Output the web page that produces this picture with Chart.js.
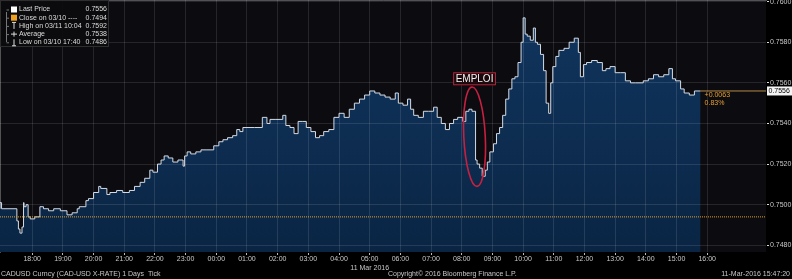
<!DOCTYPE html>
<html>
<head>
<meta charset="utf-8">
<script src="https://cdn.jsdelivr.net/npm/chart.js@4.4.1/dist/chart.umd.min.js"></script>
<style>
  html, body { margin: 0; padding: 0; background: #000; }
  #wrap { width: 792px; height: 279px; }
</style>
</head>
<body>
<div id="wrap"><canvas id="fxChart" width="792" height="279"></canvas></div>
<script>
// CAD-USD intraday ticks, 10 Mar 17:00 -> 11 Mar 15:47
const times = [
  '16:57', '17:00', '17:03', '17:30', '17:33', '17:36', '17:40', '17:43', '17:44', '17:48',
  '17:52', '17:56', '18:05', '18:15', '18:22', '18:32', '18:42', '18:55', '19:08', '19:18',
  '19:28', '19:32', '19:45', '19:50', '20:00', '20:10', '20:14', '20:26', '20:32', '20:45',
  '20:57', '21:10', '21:20', '21:31', '21:40', '21:50', '21:56', '22:05', '22:12', '22:18',
  '22:26', '22:35', '22:45', '22:55', '22:58', '23:03', '23:10', '23:20', '23:30', '23:40',
  '23:55', '00:05', '00:13', '00:22', '00:32', '00:40', '00:46', '00:52', '01:00', '01:15',
  '01:30', '01:39', '01:45', '01:55', '02:10', '02:16', '02:24', '02:32', '02:40', '02:48',
  '02:56', '03:05', '03:14', '03:22', '03:30', '03:40', '03:50', '04:00', '04:10', '04:20',
  '04:30', '04:40', '04:50', '05:00', '05:10', '05:20', '05:30', '05:40', '05:50', '05:56',
  '06:05', '06:14', '06:20', '06:26', '06:35', '06:45', '06:55', '07:05', '07:12', '07:20',
  '07:28', '07:36', '07:44', '07:52', '08:02', '08:08', '08:14', '08:20', '08:27', '08:30',
  '08:35', '08:40', '08:46', '08:50', '08:55', '09:02', '09:08', '09:14', '09:20', '09:26',
  '09:32', '09:38', '09:44', '09:50', '09:56', '10:00', '10:04', '10:08', '10:14', '10:20',
  '10:24', '10:28', '10:34', '10:40', '10:45', '10:50', '10:54', '10:58', '11:04', '11:10',
  '11:20', '11:30', '11:40', '11:48', '11:52', '11:58', '12:04', '12:14', '12:25', '12:35',
  '12:42', '12:50', '13:00', '13:10', '13:20', '13:30', '13:40', '13:55', '14:05', '14:15',
  '14:25', '14:35', '14:45', '14:52', '14:58', '15:08', '15:15', '15:25', '15:35', '15:42',
  '15:47'
];
const prices = [
  0.7498, 0.7501, 0.7498, 0.7498, 0.7492, 0.7488, 0.7486, 0.7489, 0.7501, 0.7499,
  0.7500, 0.7494, 0.7493, 0.7494, 0.7499, 0.7498, 0.7497, 0.7498, 0.7497, 0.7495,
  0.7496, 0.7498, 0.7499, 0.7502, 0.7503, 0.7506, 0.7509, 0.7508, 0.7505, 0.7506,
  0.7507, 0.7506, 0.7507, 0.7509, 0.7511, 0.7513, 0.7517, 0.7516, 0.7520, 0.7522,
  0.7524, 0.7523, 0.7521, 0.7522, 0.7519, 0.7524, 0.7526, 0.7525, 0.7526, 0.7527,
  0.7527, 0.7529, 0.7531, 0.7532, 0.7533, 0.7534, 0.7537, 0.7536, 0.7538, 0.7538,
  0.7538, 0.7543, 0.7540, 0.7542, 0.7542, 0.7544, 0.7539, 0.7538, 0.7535, 0.7541,
  0.7541, 0.7538, 0.7536, 0.7533, 0.7534, 0.7536, 0.7537, 0.7543, 0.7545, 0.7543,
  0.7547, 0.7550, 0.7552, 0.7554, 0.7556, 0.7555, 0.7554, 0.7553, 0.7552, 0.7555,
  0.7550, 0.7549, 0.7552, 0.7547, 0.7544, 0.7543, 0.7546, 0.7546, 0.7548, 0.7543,
  0.7540, 0.7537, 0.7540, 0.7542, 0.7543, 0.7541, 0.7546, 0.7547, 0.7546, 0.7522,
  0.7520, 0.7518, 0.7514, 0.7517, 0.7521, 0.7526, 0.7530, 0.7535, 0.7538, 0.7544,
  0.7552, 0.7557, 0.7562, 0.7563, 0.7570, 0.7580, 0.7592, 0.7584, 0.7583, 0.7581,
  0.7587, 0.7580, 0.7579, 0.7574, 0.7566, 0.7550, 0.7545, 0.7560, 0.7568, 0.7573,
  0.7576, 0.7577, 0.7580, 0.7582, 0.7575, 0.7563, 0.7569, 0.7570, 0.7571, 0.7570,
  0.7566, 0.7567, 0.7568, 0.7565, 0.7565, 0.7561, 0.7560, 0.7560, 0.7561, 0.7562,
  0.7564, 0.7563, 0.7564, 0.7567, 0.7562, 0.7561, 0.7557, 0.7555, 0.7554, 0.7556,
  0.7556
];
const hourTicks = ['18:00', '19:00', '20:00', '21:00', '22:00', '23:00', '00:00', '01:00', '02:00',
  '03:00', '04:00', '05:00', '06:00', '07:00', '08:00', '09:00', '10:00', '11:00', '12:00',
  '13:00', '14:00', '15:00', '16:00'];
const priceTicks = [0.7480, 0.7500, 0.7520, 0.7540, 0.7560, 0.7580, 0.7600];
const dateTick = '05:00';
const dateLabel = '11 Mar 2016';
const prevClose = 0.7494;
const legendLabels = ['Last Price', 'Close on 03/10 ----', 'High on 03/11 10:04', 'Average', 'Low on 03/10 17:40'];
const legendValues = ['0.7556', '0.7494', '0.7592', '0.7538', '0.7486'];
const changeLabels = ['+0.0063', '0.83%'];
const eventLabel = 'EMPLOI';
const eventTimes = ['08:04', '08:46'];
const eventPrices = [0.7509, 0.7558];
const eventLabelPrice = 0.7562;
const footerLeft = 'CADUSD Curncy (CAD-USD X-RATE) 1 Days  Tick';
const footerMid = 'Copyright\u00a9 2016 Bloomberg Finance L.P.';
const footerRight = '11-Mar-2016 15:47:20';

// minutes after 17:00 on 10 Mar
function toMin(s) {
  const [h, m] = s.split(':').map(Number);
  let t = h * 60 + m - 1020;
  if (t < -30) t += 1440;
  return t;
}

const FONT = "'Liberation Sans', Arial, sans-serif";
const xMin = -3, xMax = 1495;
const lastT = toMin(times[times.length - 1]);
const lastP = prices[prices.length - 1];

const bgPlugin = {
  id: 'bg',
  beforeDraw(chart) {
    const { ctx, chartArea: a } = chart;
    ctx.save();
    ctx.fillStyle = '#000';
    ctx.fillRect(0, 0, chart.width, chart.height);
    ctx.fillStyle = '#0b0b10';
    ctx.fillRect(a.left, a.top, a.right - a.left, a.bottom - a.top);
    ctx.restore();
  }
};

const overlayPlugin = {
  id: 'overlay',
  afterDraw(chart) {
    const { ctx } = chart;
    const xs = chart.scales.x, ys = chart.scales.y;
    ctx.save();

    // legend box
    ctx.fillStyle = 'rgba(12,12,14,0.95)';
    ctx.fillRect(0, 0, 109, 47);
    ctx.strokeStyle = '#2e2e2e';
    ctx.lineWidth = 1;
    ctx.strokeRect(0.5, 0.5, 108, 46);
    ctx.strokeStyle = '#777';
    ctx.beginPath();
    ctx.moveTo(6.5, 12); ctx.lineTo(6.5, 42);
    ctx.stroke();
    ctx.font = '7px ' + FONT;
    ctx.textBaseline = 'middle';
    legendLabels.forEach((lab, i) => {
      const y = 9.5 + i * 8.2;
      ctx.strokeStyle = '#777';
      ctx.beginPath(); ctx.moveTo(6.5, y + 0.5); ctx.lineTo(9, y + 0.5); ctx.stroke();
      if (i === 0) { ctx.fillStyle = '#fff'; ctx.fillRect(11, y - 3, 6, 6); }
      if (i === 1) { ctx.fillStyle = '#f0a020'; ctx.fillRect(11, y - 3, 6, 6); }
      ctx.strokeStyle = '#ddd';
      ctx.beginPath();
      if (i === 2) { ctx.moveTo(12, y - 3.5); ctx.lineTo(16, y - 3.5); ctx.moveTo(14, y - 3.5); ctx.lineTo(14, y + 3); }
      if (i === 3) { ctx.moveTo(11, y); ctx.lineTo(17, y); ctx.moveTo(14, y - 2.5); ctx.lineTo(14, y + 2.5); }
      if (i === 4) { ctx.moveTo(12, y + 3.5); ctx.lineTo(16, y + 3.5); ctx.moveTo(14, y + 3.5); ctx.lineTo(14, y - 3); }
      ctx.stroke();
      ctx.fillStyle = '#dcdcdc';
      ctx.textAlign = 'left';
      ctx.fillText(lab, 19, y);
      ctx.textAlign = 'right';
      ctx.fillText(legendValues[i], 107, y);
    });

    // EMPLOI event ring and tag
    const ex0 = xs.getPixelForValue(toMin(eventTimes[0]));
    const ex1 = xs.getPixelForValue(toMin(eventTimes[1]));
    const ey0 = ys.getPixelForValue(eventPrices[1]);
    const ey1 = ys.getPixelForValue(eventPrices[0]);
    ctx.strokeStyle = '#c82040';
    ctx.lineWidth = 1.6;
    ctx.beginPath();
    ctx.ellipse((ex0 + ex1) / 2, (ey0 + ey1) / 2, (ex1 - ex0) / 2, (ey1 - ey0) / 2, -0.05, 0, Math.PI * 2);
    ctx.stroke();
    const tx = (ex0 + ex1) / 2;
    const ty = ys.getPixelForValue(eventLabelPrice);
    ctx.font = '10px ' + FONT;
    const tw = ctx.measureText(eventLabel).width + 5;
    ctx.fillStyle = 'rgba(30,8,12,0.85)';
    ctx.fillRect(tx - tw / 2, ty - 6.5, tw, 13);
    ctx.strokeStyle = '#b0283a';
    ctx.lineWidth = 1;
    ctx.strokeRect(tx - tw / 2 + 0.5, ty - 6, tw - 1, 12);
    ctx.fillStyle = '#f2f2f2';
    ctx.textAlign = 'center';
    ctx.textBaseline = 'middle';
    ctx.fillText(eventLabel, tx, ty + 0.5);

    // last price tag on the axis
    const ly = ys.getPixelForValue(lastP);
    ctx.fillStyle = '#f4f4f4';
    ctx.fillRect(767, ly - 4.5, 25, 9);
    ctx.fillStyle = '#000';
    ctx.font = '7px ' + FONT;
    ctx.textAlign = 'left';
    ctx.fillText(lastP.toFixed(4), 768.5, ly + 0.5);

    // change vs previous close
    const lx = xs.getPixelForValue(lastT) + 4;
    ctx.fillStyle = '#e8a030';
    ctx.fillText(changeLabels[0], lx, ly + 4);
    ctx.fillText(changeLabels[1], lx, ly + 12);

    // footer
    ctx.fillStyle = '#c8c8c8';
    ctx.font = '7px ' + FONT;
    ctx.textAlign = 'left';
    ctx.fillText(footerLeft, 1, 274);
    ctx.fillText(footerMid, 388, 274);
    ctx.textAlign = 'right';
    ctx.fillText(footerRight, 790, 274);
    ctx.restore();
  }
};

const ctx = document.getElementById('fxChart').getContext('2d');
new Chart(ctx, {
  type: 'line',
  data: {
    datasets: [{
      data: times.map((t, i) => ({ x: toMin(t), y: prices[i] })),
      order: 2,
      stepped: 'after',
      borderColor: '#d4dbe4',
      borderWidth: 1,
      pointRadius: 0,
      fill: 'start',
      backgroundColor: (c) => {
        const a = c.chart.chartArea;
        if (!a) return '#0c2a4e';
        const g = c.chart.ctx.createLinearGradient(0, a.top, 0, a.bottom);
        g.addColorStop(0, '#113660');
        g.addColorStop(1, '#0a2544');
        return g;
      }
    }, {
      // previous close
      data: [{ x: xMin, y: prevClose }, { x: xMax, y: prevClose }],
      order: 1,
      borderColor: '#e0a028',
      borderWidth: 1,
      borderDash: [1, 1],
      pointRadius: 0,
      fill: false
    }, {
      // last price marker line
      data: [{ x: lastT, y: lastP }, { x: xMax, y: lastP }],
      order: 1,
      borderColor: '#b98a45',
      borderWidth: 1,
      pointRadius: 0,
      fill: false
    }]
  },
  options: {
    responsive: false,
    animation: false,
    layout: { padding: 0 },
    plugins: { legend: { display: false }, tooltip: { enabled: false } },
    scales: {
      x: {
        type: 'linear',
        min: xMin,
        max: xMax,
        afterBuildTicks: (s) => { s.ticks = hourTicks.map(h => ({ value: toMin(h) })); },
        afterFit: (s) => { s.height = 27; s.paddingLeft = 0; s.paddingRight = 0; },
        ticks: {
          autoSkip: false,
          maxRotation: 0,
          padding: 0,
          color: '#c8c8c8',
          font: { family: FONT, size: 7 },
          callback: (v, i) => hourTicks[i] === dateTick ? [hourTicks[i], dateLabel] : hourTicks[i]
        },
        grid: { color: 'rgba(255,255,255,0.11)', z: 1, tickLength: 3, tickColor: '#bbb' },
        border: { color: '#9a9a9a' }
      },
      y: {
        position: 'right',
        min: 0.74767,
        max: 0.76008,
        afterBuildTicks: (s) => { s.ticks = priceTicks.map(v => ({ value: v })); },
        afterFit: (s) => { s.width = 26; s.paddingTop = 0; s.paddingBottom = 0; },
        ticks: {
          padding: 1,
          color: '#c8c8c8',
          font: { family: FONT, size: 7 },
          callback: (v) => v.toFixed(4)
        },
        grid: { color: 'rgba(255,255,255,0.11)', z: 1, tickLength: 3, tickColor: '#ddd' },
        border: { color: '#9a9a9a' }
      }
    }
  },
  plugins: [bgPlugin, overlayPlugin]
});
</script>
</body>
</html>
